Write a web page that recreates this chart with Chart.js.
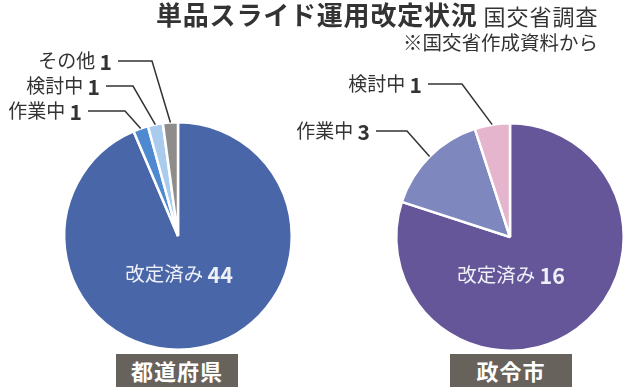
<!DOCTYPE html>
<html>
<head>
<meta charset="utf-8">
<script src="https://cdn.jsdelivr.net/npm/chart.js@4/dist/chart.umd.min.js"></script>
<style>
  html, body { margin: 0; padding: 0; background: #fff; }
  #wrap { position: relative; width: 626px; height: 387px; overflow: hidden; font-family: "Noto Sans CJK JP", sans-serif; color: #333; }
  #wrap canvas { position: absolute; left: 0; top: 0; }
  .title { position: absolute; left: 156px; top: -1px; font-size: 26px; font-weight: bold; line-height: 30px; white-space: nowrap; letter-spacing: 0.8px; }
  .title span { font-weight: normal; font-size: 22px; letter-spacing: 1px; margin-left: 6px; }
  .src { position: absolute; right: 28px; top: 29px; font-size: 19.5px; line-height: 26px; white-space: nowrap; }
  .tag { position: absolute; top: 354px; height: 33px; background: #67625c; color: #fff; font-weight: bold; font-size: 22px; line-height: 33px; text-align: center; letter-spacing: 1px; }
</style>
</head>
<body>
<div id="wrap">
  <canvas id="prefChart" width="626" height="387"></canvas>
  <canvas id="cityChart" width="626" height="387"></canvas>
  <div class="title">単品スライド運用改定状況<span>国交省調査</span></div>
  <div class="src">※国交省作成資料から</div>
  <div class="tag" style="left:116px;width:122px;">都道府県</div>
  <div class="tag" style="left:450px;width:122px;">政令市</div>
</div>
<script>
'use strict';

const prefLabels = ['改定済み', '作業中', '検討中', 'その他'];
const prefValues = [44, 1, 1, 1];
const prefColors = ['#4866a8', '#4f8ad0', '#a9cbee', '#8e8d8b'];

const cityLabels = ['改定済み', '作業中', '検討中'];
const cityValues = [16, 3, 1];
const cityColors = ['#655699', '#7e87be', '#e4b5cd'];

// outside labels: index of slice, text right edge, text y, elbow x
const prefCallouts = [
    { i: 3, right: 112, y: 61, elbow: 152 },
    { i: 2, right: 100, y: 86, elbow: 133 },
    { i: 1, right: 82, y: 111, elbow: 125 }
];
const cityCallouts = [
    { i: 2, right: 422, y: 84, elbow: 462 },
    { i: 1, right: 370, y: 131, elbow: 407 }
];

const jp = '"Noto Sans CJK JP", sans-serif';

function drawPair(ctx, label, value, x, y, align, color, size) {
    ctx.font = size + 'px ' + jp;
    let w1 = ctx.measureText(label + ' ').width;
    ctx.font = 'bold ' + (size + 2) + 'px ' + jp;
    let w2 = ctx.measureText(String(value)).width;
    let start = align === 'right' ? x - w1 - w2 : x - (w1 + w2) / 2;
    ctx.fillStyle = color;
    ctx.textBaseline = 'middle';
    ctx.textAlign = 'left';
    ctx.font = size + 'px ' + jp;
    ctx.fillText(label + ' ', start, y);
    ctx.font = 'bold ' + (size + 2) + 'px ' + jp;
    ctx.fillText(String(value), start + w1, y + 1);
}

const calloutPlugin = {
    id: 'callouts',
    afterDatasetsDraw(chart, args, opts) {
        const ctx = chart.ctx;
        const meta = chart.getDatasetMeta(0);
        const labels = chart.data.labels;
        const values = chart.data.datasets[0].data;
        ctx.save();
        // main slice label inside
        const main = meta.data[0];
        drawPair(ctx, labels[0], values[0], main.x + 1, main.y + 38, 'center', '#eef0f8', 19.5);
        ctx.strokeStyle = '#333';
        ctx.lineWidth = 1.5;
        opts.items.forEach(c => {
            const arc = meta.data[c.i];
            const mid = (arc.startAngle + arc.endAngle) / 2;
            const px = arc.x + Math.cos(mid) * arc.outerRadius;
            const py = arc.y + Math.sin(mid) * arc.outerRadius;
            ctx.beginPath();
            ctx.moveTo(c.right + 6, c.y);
            ctx.lineTo(c.elbow, c.y);
            ctx.lineTo(px, py);
            ctx.stroke();
            drawPair(ctx, labels[c.i], values[c.i], c.right, c.y, 'right', '#333', 19);
        });
        ctx.restore();
    }
};

function makePie(id, labels, values, colors, padding, items) {
    return new Chart(document.getElementById(id), {
        type: 'pie',
        data: {
            labels: labels,
            datasets: [{
                data: values,
                backgroundColor: colors,
                borderColor: '#ffffff',
                borderWidth: 2.5
            }]
        },
        options: {
            responsive: false,
            animation: false,
            layout: { padding: padding },
            plugins: {
                legend: { display: false },
                tooltip: { enabled: false },
                callouts: { items: items }
            }
        },
        plugins: [calloutPlugin]
    });
}

makePie('prefChart', prefLabels, prefValues, prefColors,
    { left: 63, right: 333, top: 121, bottom: 36 }, prefCallouts);
makePie('cityChart', cityLabels, cityValues, cityColors,
    { left: 395, right: 1, top: 122, bottom: 35 }, cityCallouts);
</script>
</body>
</html>
